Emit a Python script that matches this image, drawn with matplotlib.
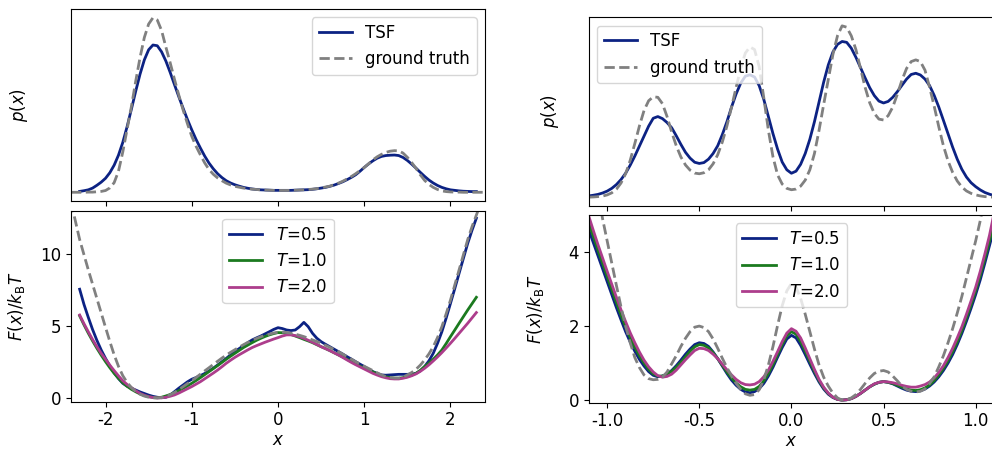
import numpy as np
import matplotlib
matplotlib.use("Agg")
import matplotlib.pyplot as plt

plt.rcParams["font.size"] = 12
plt.rcParams["axes.unicode_minus"] = False

# ---------------------------------------------------------------- double well
x_dw = np.linspace(-2.3, 2.3, 93)      # TSF samples, step 0.05
x_dw_gt = np.linspace(-2.4, 2.4, 97)   # reference samples, step 0.05

p_dw_tsf = [0.005, 0.009, 0.014, 0.024, 0.040, 0.058, 0.080, 0.112, 0.155, 0.212,   # -2.30
            0.285, 0.375, 0.475, 0.578, 0.675, 0.757, 0.815, 0.842, 0.838, 0.803,   # -1.80
            0.750, 0.685, 0.615, 0.546, 0.480, 0.416, 0.357, 0.302, 0.253, 0.207,   # -1.30
            0.167, 0.134, 0.106, 0.084, 0.066, 0.053, 0.043, 0.035, 0.028, 0.023,   # -0.80
            0.019, 0.016, 0.014, 0.013, 0.012, 0.011, 0.011, 0.011, 0.011, 0.011,   # -0.30
            0.012, 0.013, 0.014, 0.015, 0.017, 0.020, 0.024, 0.028, 0.034, 0.041,   #  0.20
            0.050, 0.060, 0.072, 0.085, 0.100, 0.120, 0.142, 0.162, 0.180, 0.195,   #  0.70
            0.205, 0.210, 0.212, 0.213, 0.210, 0.199, 0.182, 0.161, 0.138, 0.114,   #  1.20
            0.091, 0.070, 0.053, 0.039, 0.028, 0.020, 0.014, 0.011, 0.008, 0.006,   #  1.70
            0.005, 0.004, 0.004]                                                    #  2.20
p_dw_gt = [0.000, 0.000, 0.000, 0.000, 0.001, 0.001, 0.003, 0.005, 0.010, 0.025,    # -2.40
           0.055, 0.120, 0.230, 0.360, 0.490, 0.635, 0.770, 0.885, 0.962, 0.998,    # -1.90
           0.985, 0.925, 0.830, 0.740, 0.645, 0.555, 0.470, 0.392, 0.320, 0.263,    # -1.40
           0.214, 0.168, 0.130, 0.103, 0.082, 0.066, 0.052, 0.042, 0.034, 0.029,    # -0.90
           0.024, 0.021, 0.018, 0.016, 0.014, 0.013, 0.012, 0.011, 0.0105, 0.0105,  # -0.40
           0.0105, 0.011, 0.012, 0.013, 0.014, 0.016, 0.018, 0.021, 0.025, 0.030,   #  0.10
           0.035, 0.043, 0.052, 0.063, 0.076, 0.090, 0.106, 0.124, 0.142, 0.163,    #  0.60
           0.185, 0.203, 0.217, 0.228, 0.235, 0.238, 0.237, 0.224, 0.200, 0.170,    #  1.10
           0.137, 0.100, 0.068, 0.045, 0.028, 0.016, 0.008, 0.004, 0.002, 0.001,    #  1.60
           0.001, 0.000, 0.000, 0.000, 0.000, 0.000, 0.000]                         #  2.10

f_dw_05 = [7.55, 6.50, 5.60, 4.75, 4.00, 3.33, 2.75, 2.22, 1.75, 1.35,
           1.02, 0.82, 0.68, 0.55, 0.42, 0.31, 0.20, 0.11, 0.05, 0.02,
           0.05, 0.20, 0.44, 0.68, 0.90, 1.12, 1.30, 1.42, 1.55, 1.70,
           1.87, 2.07, 2.29, 2.52, 2.75, 2.99, 3.22, 3.43, 3.63, 3.84,
           4.03, 4.17, 4.30, 4.45, 4.60, 4.76, 4.88, 4.82, 4.72, 4.68,
           4.72, 4.95, 5.25, 4.95, 4.49, 4.15, 3.91, 3.73, 3.56, 3.39,
           3.22, 3.05, 2.87, 2.70, 2.52, 2.35, 2.18, 2.00, 1.83, 1.70,
           1.60, 1.58, 1.60, 1.62, 1.64, 1.64, 1.64, 1.66, 1.71, 1.88,
           2.18, 2.58, 3.10, 3.80, 4.60, 5.55, 6.57, 7.60, 8.66, 9.70,
           10.74, 11.65, 12.48]
f_dw_10 = [5.70, 5.08, 4.50, 3.96, 3.45, 2.97, 2.52, 2.10, 1.71, 1.37,
           1.06, 0.81, 0.60, 0.43, 0.28, 0.17, 0.09, 0.04, 0.02, 0.05,
           0.14, 0.24, 0.37, 0.51, 0.67, 0.84, 1.02, 1.21, 1.41, 1.62,
           1.83, 2.04, 2.25, 2.47, 2.69, 2.90, 3.10, 3.30, 3.50, 3.67,
           3.84, 4.00, 4.14, 4.27, 4.38, 4.47, 4.54, 4.53, 4.49, 4.41,
           4.30, 4.19, 4.07, 3.96, 3.84, 3.70, 3.56, 3.43, 3.29, 3.14,
           2.99, 2.84, 2.69, 2.52, 2.36, 2.21, 2.06, 1.93, 1.81, 1.68,
           1.55, 1.47, 1.41, 1.38, 1.37, 1.41, 1.48, 1.58, 1.71, 1.92,
           2.18, 2.42, 2.69, 2.99, 3.33, 3.78, 4.26, 4.72, 5.19, 5.65,
           6.11, 6.55, 6.99]
f_dw_20 = [5.76, 5.16, 4.60, 4.06, 3.56, 3.10, 2.69, 2.28, 1.90, 1.54,
           1.20, 0.94, 0.72, 0.50, 0.32, 0.19, 0.09, 0.03, 0.00, 0.01,
           0.05, 0.12, 0.21, 0.34, 0.49, 0.64, 0.79, 0.96, 1.13, 1.33,
           1.53, 1.73, 1.94, 2.17, 2.41, 2.62, 2.82, 3.00, 3.17, 3.34,
           3.50, 3.63, 3.75, 3.87, 3.98, 4.09, 4.19, 4.30, 4.38, 4.38,
           4.33, 4.25, 4.14, 4.01, 3.87, 3.72, 3.56, 3.43, 3.29, 3.14,
           2.99, 2.82, 2.64, 2.47, 2.31, 2.16, 2.01, 1.86, 1.71, 1.59,
           1.48, 1.40, 1.34, 1.32, 1.32, 1.37, 1.44, 1.54, 1.67, 1.85,
           2.06, 2.30, 2.57, 2.85, 3.15, 3.47, 3.80, 4.14, 4.49, 4.84,
           5.19, 5.56, 5.93]
f_dw_gt = [13.6, 12.3, 11.0, 9.95, 8.90, 7.90, 6.90, 5.90, 4.90, 3.92,
           3.00, 2.20, 1.55, 1.08, 0.72, 0.45, 0.26, 0.13, 0.05, 0.01,
           0.00, 0.03, 0.10, 0.22, 0.38, 0.58, 0.79, 1.00, 1.20, 1.42,
           1.65, 1.88, 2.10, 2.33, 2.55, 2.77, 2.98, 3.17, 3.35, 3.53,
           3.70, 3.86, 4.00, 4.13, 4.25, 4.35, 4.43, 4.51, 4.56, 4.57,
           4.55, 4.50, 4.43, 4.35, 4.26, 4.15, 4.03, 3.92, 3.80, 3.66,
           3.52, 3.37, 3.22, 3.05, 2.87, 2.70, 2.52, 2.36, 2.20, 2.05,
           1.90, 1.75, 1.60, 1.49, 1.42, 1.38, 1.38, 1.45, 1.60, 1.77,
           1.99, 2.28, 2.64, 3.06, 3.56, 4.20, 4.95, 5.85, 6.80, 7.85,
           8.90, 9.95, 11.0, 11.9, 12.7, 13.5, 14.3]

# ---------------------------------------------------------------- four wells
x_fw = np.linspace(-1.1, 1.1, 89)      # step 0.025

p_fw_tsf = [0.008, 0.012, 0.017, 0.025, 0.036, 0.052, 0.074, 0.103, 0.140, 0.187,   # -1.100
            0.240, 0.298, 0.356, 0.414, 0.460, 0.470, 0.458, 0.435, 0.405, 0.358,   # -0.850
            0.308, 0.262, 0.228, 0.204, 0.197, 0.202, 0.222, 0.255, 0.300, 0.365,   # -0.600
            0.440, 0.525, 0.602, 0.665, 0.705, 0.713, 0.700, 0.650, 0.570, 0.470,   # -0.350
            0.370, 0.280, 0.205, 0.160, 0.140, 0.152, 0.192, 0.255, 0.338, 0.440,   # -0.100
            0.555, 0.670, 0.770, 0.845, 0.890, 0.907, 0.902, 0.868, 0.815, 0.755,   #  0.150
            0.695, 0.638, 0.592, 0.560, 0.549, 0.558, 0.582, 0.615, 0.652, 0.688,   #  0.400
            0.715, 0.722, 0.712, 0.688, 0.650, 0.593, 0.525, 0.448, 0.370, 0.292,   #  0.650
            0.222, 0.163, 0.118, 0.085, 0.062, 0.043, 0.028, 0.018, 0.010]          #  0.900
p_fw_gt = [0.001, 0.002, 0.004, 0.007, 0.014, 0.026, 0.047, 0.083, 0.137, 0.215,
           0.313, 0.415, 0.505, 0.562, 0.585, 0.582, 0.545, 0.470, 0.380, 0.300,
           0.235, 0.188, 0.158, 0.141, 0.137, 0.143, 0.160, 0.195, 0.248, 0.322,
           0.415, 0.525, 0.640, 0.752, 0.840, 0.875, 0.860, 0.760, 0.580, 0.390,
           0.235, 0.130, 0.077, 0.052, 0.044, 0.048, 0.065, 0.100, 0.160, 0.255,
           0.390, 0.540, 0.685, 0.830, 0.940, 0.998, 0.990, 0.940, 0.860, 0.750,
           0.640, 0.550, 0.488, 0.455, 0.450, 0.475, 0.525, 0.600, 0.682, 0.750,
           0.790, 0.800, 0.790, 0.740, 0.640, 0.530, 0.410, 0.300, 0.212, 0.145,
           0.095, 0.060, 0.037, 0.023, 0.014, 0.008, 0.004, 0.002, 0.001]

f_fw_05 = [4.60, 4.25, 3.90, 3.55, 3.20, 2.85, 2.50, 2.17, 1.85, 1.57,
           1.32, 1.10, 0.92, 0.77, 0.67, 0.63, 0.65, 0.71, 0.80, 0.93,
           1.08, 1.24, 1.38, 1.50, 1.55, 1.53, 1.45, 1.30, 1.12, 0.92,
           0.72, 0.54, 0.40, 0.29, 0.22, 0.20, 0.23, 0.31, 0.45, 0.65,
           0.89, 1.16, 1.42, 1.65, 1.75, 1.68, 1.48, 1.23, 0.97, 0.72,
           0.49, 0.30, 0.16, 0.07, 0.02, 0.00, 0.01, 0.04, 0.10, 0.18,
           0.27, 0.36, 0.43, 0.48, 0.50, 0.48, 0.44, 0.38, 0.32, 0.27,
           0.24, 0.23, 0.25, 0.30, 0.38, 0.49, 0.63, 0.80, 1.00, 1.23,
           1.50, 1.80, 2.13, 2.48, 2.85, 3.25, 3.70, 4.17, 4.65]
f_fw_10 = [4.78, 4.42, 4.05, 3.70, 3.34, 2.99, 2.64, 2.30, 1.98, 1.69,
           1.43, 1.20, 1.00, 0.83, 0.71, 0.65, 0.65, 0.70, 0.78, 0.89,
           1.02, 1.17, 1.32, 1.44, 1.50, 1.48, 1.41, 1.28, 1.12, 0.94,
           0.76, 0.60, 0.46, 0.36, 0.29, 0.27, 0.29, 0.37, 0.52, 0.72,
           0.96, 1.23, 1.50, 1.74, 1.85, 1.78, 1.58, 1.32, 1.05, 0.78,
           0.53, 0.33, 0.18, 0.08, 0.02, 0.00, 0.01, 0.04, 0.10, 0.18,
           0.27, 0.36, 0.43, 0.48, 0.50, 0.48, 0.45, 0.40, 0.35, 0.30,
           0.27, 0.26, 0.28, 0.33, 0.41, 0.53, 0.68, 0.86, 1.07, 1.31,
           1.58, 1.88, 2.22, 2.58, 2.95, 3.37, 3.82, 4.30, 4.80]
f_fw_20 = [4.97, 4.58, 4.20, 3.84, 3.48, 3.13, 2.78, 2.44, 2.12, 1.82,
           1.55, 1.30, 1.08, 0.90, 0.76, 0.66, 0.62, 0.64, 0.70, 0.81,
           0.95, 1.09, 1.22, 1.34, 1.40, 1.39, 1.34, 1.24, 1.12, 0.97,
           0.82, 0.68, 0.56, 0.47, 0.42, 0.41, 0.43, 0.50, 0.63, 0.81,
           1.05, 1.31, 1.58, 1.81, 1.93, 1.86, 1.68, 1.41, 1.12, 0.83,
           0.56, 0.35, 0.19, 0.08, 0.02, 0.00, 0.01, 0.04, 0.10, 0.18,
           0.27, 0.36, 0.44, 0.48, 0.50, 0.49, 0.47, 0.44, 0.40, 0.37,
           0.35, 0.35, 0.38, 0.42, 0.49, 0.60, 0.75, 0.93, 1.15, 1.40,
           1.68, 1.98, 2.32, 2.68, 3.05, 3.48, 3.95, 4.45, 5.05]
f_fw_gt = [7.50, 6.45, 5.60, 4.90, 4.30, 3.70, 3.10, 2.52, 2.00, 1.55,
           1.15, 0.88, 0.68, 0.58, 0.55, 0.56, 0.62, 0.76, 0.98, 1.20,
           1.45, 1.67, 1.85, 1.97, 2.00, 1.96, 1.85, 1.65, 1.40, 1.13,
           0.88, 0.65, 0.45, 0.29, 0.17, 0.13, 0.15, 0.28, 0.55, 0.95,
           1.45, 2.02, 2.55, 2.95, 3.15, 3.05, 2.75, 2.32, 1.85, 1.38,
           0.95, 0.62, 0.38, 0.19, 0.06, 0.00, 0.01, 0.06, 0.15, 0.29,
           0.45, 0.60, 0.72, 0.78, 0.80, 0.76, 0.65, 0.52, 0.38, 0.29,
           0.24, 0.22, 0.24, 0.30, 0.45, 0.63, 0.90, 1.20, 1.55, 1.93,
           2.35, 2.80, 3.30, 3.80, 4.30, 4.85, 5.50, 6.20, 6.90]

temp_labels = [r"$T$=0.5", r"$T$=1.0", r"$T$=2.0"]

NAVY = "#0c2283"
GREEN = "#1b7a1f"
PINK = "#ad3d8c"
GREY = "#808080"
LW = 2.0


def density_panel(ax, x, p, xg, pg, xlim, xticks, loc, label_x):
    ax.plot(x, p, color=NAVY, lw=LW, label="TSF")
    ax.plot(xg, pg, color=GREY, lw=LW, ls="--", label="ground truth")
    ax.set_xlim(*xlim)
    ax.set_xticks(xticks)
    ax.tick_params(labelbottom=False)
    ax.set_yticks([])
    ax.set_ylabel(r"$p(x)$")
    ax.yaxis.set_label_coords(label_x, 0.5)
    ax.legend(loc=loc)


def energy_panel(ax, x, curves, xg, fg, xlim, ylim, xticks, yticks,
                 xticklabels, label_x):
    for f, c, lab in zip(curves, [NAVY, GREEN, PINK], temp_labels):
        ax.plot(x, f, color=c, lw=LW, label=lab)
    ax.plot(xg, fg, color=GREY, lw=LW, ls="--")
    ax.set_xlim(*xlim)
    ax.set_ylim(*ylim)
    ax.set_xticks(xticks)
    ax.set_xticklabels(xticklabels)
    ax.set_yticks(yticks)
    ax.set_xlabel(r"$x$", labelpad=1)
    ax.set_ylabel(r"$F(x)/k_\mathrm{B}T$")
    ax.yaxis.set_label_coords(label_x, 0.5)
    ax.legend(loc="upper center")


fig = plt.figure(figsize=(9.92, 4.5), dpi=100)

ax_a = fig.add_axes([0.0716, 0.5533, 0.4173, 0.4267])
ax_b = fig.add_axes([0.0716, 0.1073, 0.4173, 0.4244])
ax_c = fig.add_axes([0.5935, 0.5429, 0.4086, 0.4187])
ax_d = fig.add_axes([0.5935, 0.1051, 0.4086, 0.4171])

density_panel(ax_a, x_dw, p_dw_tsf, x_dw_gt, p_dw_gt, (-2.4, 2.4),
              [-2, -1, 0, 1, 2], "upper right", -0.099)
energy_panel(ax_b, x_dw, [f_dw_05, f_dw_10, f_dw_20], x_dw_gt, f_dw_gt,
             (-2.4, 2.4), (-0.26, 13.0), [-2, -1, 0, 1, 2], [0, 5, 10],
             ["-2", "-1", "0", "1", "2"], -0.106)

density_panel(ax_c, x_fw, p_fw_tsf, x_fw, p_fw_gt, (-1.1, 1.1),
              [-1.0, -0.5, 0.0, 0.5, 1.0], "upper left", -0.068)
energy_panel(ax_d, x_fw, [f_fw_05, f_fw_10, f_fw_20], x_fw, f_fw_gt,
             (-1.1, 1.1), (-0.07, 5.0), [-1.0, -0.5, 0.0, 0.5, 1.0], [0, 2, 4],
             ["-1.0", "-0.5", "0.0", "0.5", "1.0"], -0.105)

fig.savefig("out.png", dpi=100)
